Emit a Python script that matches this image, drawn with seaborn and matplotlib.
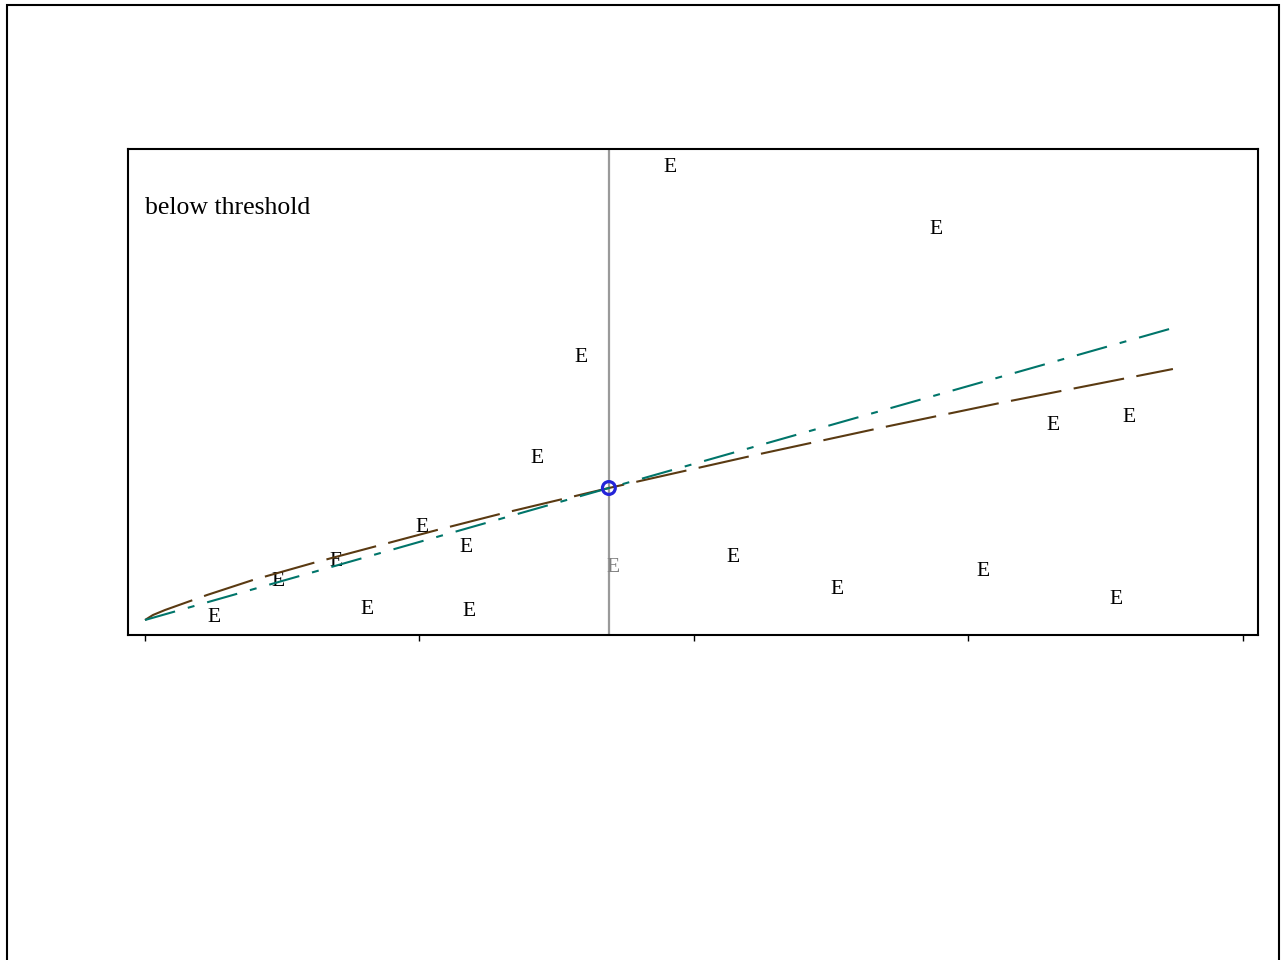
import matplotlib
matplotlib.use("Agg")
import matplotlib.pyplot as plt
import matplotlib.patches as mpatches
import matplotlib.transforms as mtransforms
import seaborn as sns
import pandas as pd

# Observations (x position, response)
obs_x = [0.251, 0.485, 0.696, 0.809, 1.009, 1.169, 1.180, 1.428, 1.588, 1.705,
         1.913, 2.142, 2.521, 2.882, 3.053, 3.308, 3.537, 3.585]
obs_y = [0.12, 0.82, 1.22, 0.28, 1.90, 1.52, 0.24, 3.30, 5.30, 1.10,
         9.12, 1.30, 0.66, 7.88, 1.02, 3.94, 0.48, 4.12]
obs_label = "E"

# Curved fit (dashed brown)
curve_x = [0.0, 0.029, 0.073, 0.226, 0.393, 0.612, 0.845, 1.064, 1.293, 1.690,
           2.240, 2.703, 3.115, 3.745]
curve_y = [0.0, 0.10, 0.20, 0.50, 0.80, 1.14, 1.48, 1.80, 2.12, 2.64,
           3.32, 3.87, 4.34, 5.02]

# Linear fit (dash-dot teal)
line_x = [0.0, 1.690, 3.745]
line_y = [0.0, 2.64, 5.84]

# Threshold position and the point where both fits meet
threshold_x = 1.690
meet_x = [1.690]
meet_y = [2.64]

tick_positions = [0, 1, 2, 3, 4]
note_text = "below threshold"

sns.set_theme(style="white")
plt.rcParams["font.family"] = ["Liberation Serif", "DejaVu Serif"]
plt.rcParams["lines.scale_dashes"] = False

fig = plt.figure(figsize=(12.81, 9.6), dpi=100)
ax = fig.add_axes([128 / 1281, 1 - 635 / 960, (1258 - 128) / 1281, (635 - 149) / 960])

# outer frame around the whole page
fig.patches.append(mpatches.Rectangle((7 / 1281, -0.02), 1272 / 1281, 1 - 5 / 960 + 0.02,
                                      transform=fig.transFigure, fill=False,
                                      edgecolor="black", linewidth=1.5, zorder=0))

ax.axvline(threshold_x, color="#9a9a9a", linewidth=1.6, zorder=1)

curve_df = pd.DataFrame({"x": curve_x, "y": curve_y})
sns.lineplot(data=curve_df, x="x", y="y", color="#5a3a12", linewidth=1.5,
             ax=ax, sort=True, zorder=3)
ax.lines[-1].set_dashes([37, 9])

line_df = pd.DataFrame({"x": line_x, "y": line_y})
sns.lineplot(data=line_df, x="x", y="y", color="#00756a", linewidth=1.5,
             ax=ax, sort=True, zorder=3)
ax.lines[-1].set_dashes([22.5, 9.5, 5, 9.5])

sns.scatterplot(x=meet_x, y=meet_y, marker="o", s=85, facecolor="none",
                edgecolor="#2424d8", linewidth=2.3, ax=ax, zorder=4)

# letter glyphs sit slightly below their anchor point
text_tr = mtransforms.offset_copy(ax.transData, fig=fig, x=0, y=-3, units="dots")
for xv, yv in zip(obs_x, obs_y):
    col = "#808080" if abs(xv - threshold_x) < 0.05 else "black"
    ax.text(xv, yv, obs_label, ha="center", va="center", fontsize=15.5,
            color=col, zorder=2, transform=text_tr)

ax.text(0.0, 8.12, note_text, ha="left", va="baseline", fontsize=18.5, color="black")

ax.set_xlim(-0.062, 4.055)
ax.set_ylim(-0.30, 9.42)
ax.set_xticks(tick_positions)
ax.set_xticklabels([])
ax.set_yticks([])
ax.set_xlabel("")
ax.set_ylabel("")
ax.tick_params(axis="x", direction="out", length=4, width=1.0, color="black",
               bottom=True)
for side in ["left", "right", "top", "bottom"]:
    ax.spines[side].set_visible(True)
    ax.spines[side].set_color("black")
    ax.spines[side].set_linewidth(1.5)

fig.savefig("out.png", dpi=100, facecolor="white")
